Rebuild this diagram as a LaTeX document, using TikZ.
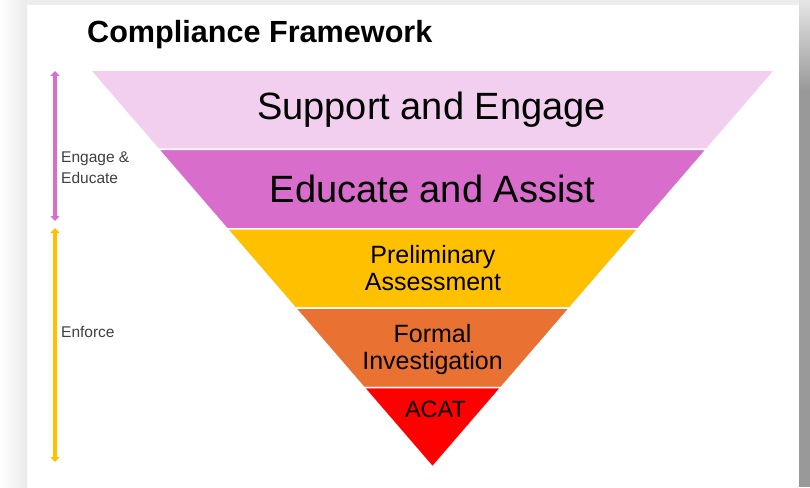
\documentclass[tikz,border=0pt]{standalone}
\usepackage{fontspec}
\setmainfont{Liberation Sans}
\usetikzlibrary{arrows.meta,calc}

\definecolor{lilac}{HTML}{F2CEEF}
\definecolor{orchid}{HTML}{D86DCB}
\definecolor{amber}{HTML}{FFC000}
\definecolor{tangerine}{HTML}{E97132}
\definecolor{alarm}{HTML}{FF0000}
\definecolor{labelgray}{HTML}{404040}

\tikzset{
  band/.style={draw=white,line width=1.5pt},
  bigtext/.style={font=\fontsize{38}{40}\selectfont,text=black},
  bandtext/.style={font=\fontsize{25}{27}\selectfont,align=center,text=black},
  sidetext/.style={font=\fontsize{15.5}{21}\selectfont,align=left,text=labelgray,anchor=west,inner sep=0pt},
  span/.style={<->,line width=3.5pt}
}

\begin{document}
\begin{tikzpicture}[x=1pt,y=-1pt,>={Triangle[width=9pt,length=5pt]}]

% card and shadow
\fill[white] (0,0) rectangle (810,487);
\shade[left color=white,right color=black!8] (0,0) rectangle (27,487);
\fill[black!7] (27,0) rectangle (799,5);
\shade[top color=black!10,bottom color=black!40] (799,0) rectangle (810,90);
\fill[black!40] (799,90) rectangle (810,487);
\useasboundingbox (0,0) rectangle (810,487);

% the funnel
\coordinate (tl) at (90,70);
\coordinate (tr) at (775,70);
\coordinate (ap) at (432.5,467);

\filldraw[band,fill=lilac]     (tl) -- (tr) -- ($(tr)!0.2!(ap)$) -- ($(tl)!0.2!(ap)$) -- cycle;
\filldraw[band,fill=orchid]    ($(tl)!0.2!(ap)$) -- ($(tr)!0.2!(ap)$) -- ($(tr)!0.4!(ap)$) -- ($(tl)!0.4!(ap)$) -- cycle;
\filldraw[band,fill=amber]     ($(tl)!0.4!(ap)$) -- ($(tr)!0.4!(ap)$) -- ($(tr)!0.6!(ap)$) -- ($(tl)!0.6!(ap)$) -- cycle;
\filldraw[band,fill=tangerine] ($(tl)!0.6!(ap)$) -- ($(tr)!0.6!(ap)$) -- ($(tr)!0.8!(ap)$) -- ($(tl)!0.8!(ap)$) -- cycle;
\filldraw[band,fill=alarm]     ($(tl)!0.8!(ap)$) -- ($(tr)!0.8!(ap)$) -- (ap) -- cycle;

\node[anchor=west,inner sep=0pt,font=\bfseries\fontsize{30.6}{32}\selectfont] (title) at (87,35) {Compliance Framework};

\node[bigtext]  (support) at (431.5,110) {Support and Engage};
\node[bigtext]  (educate) at (432.5,189) {Educate and Assist};
\node[bandtext] (prelim)  at (433,268)   {Preliminary\\Assessment};
\node[bandtext] (formal)  at (432.5,350) {Formal\\Investigation};
\node[bandtext,font=\fontsize{23.5}{25}\selectfont] (acat) at (435.5,409) {ACAT};

% side spans
\coordinate (engage top) at (55,71);
\coordinate (engage bot) at (55,221);
\coordinate (enforce top) at (55,228);
\coordinate (enforce bot) at (55,462);

\draw[span,orchid] (engage top) -- (engage bot);
\draw[span,amber]  (enforce top) -- (enforce bot);

\node[sidetext] (engage lbl)  at (61,168) {Engage \&\\Educate};
\node[sidetext] (enforce lbl) at (61,332) {Enforce};

\end{tikzpicture}
\end{document}
